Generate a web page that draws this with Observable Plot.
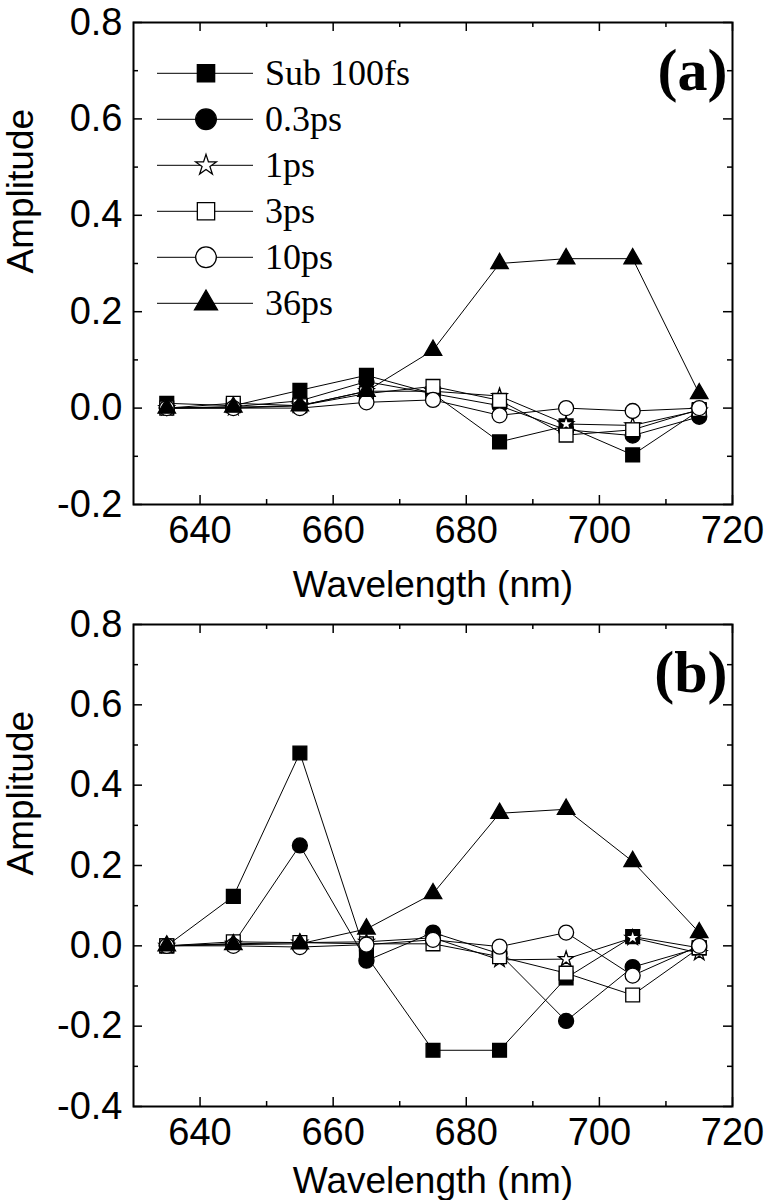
<!DOCTYPE html>
<html><head><meta charset="utf-8">
<script src="https://cdn.jsdelivr.net/npm/d3@7"></script>
<script src="https://cdn.jsdelivr.net/npm/@observablehq/plot@0.6"></script>
<style>
body{margin:0;background:#fff;}
#chart svg{display:block;}
</style></head><body><div id="chart"></div>
<script>
// ---- data ----
const wavelengths = [635, 645, 655, 665, 675, 685, 695, 705, 715];
const seriesNames = ["Sub 100fs", "0.3ps", "1ps", "3ps", "10ps", "36ps"];
const seriesSymbols = ["square", "circle", "star", "square", "circle", "triangle"];
const seriesFilled = [true, true, false, false, false, true];

// panel (a)
const a_sub100fs = [0.01, 0.005, 0.037, 0.068, 0.03, -0.07, -0.037, -0.097, -0.005];
const a_0_3ps    = [0.0, 0.003, 0.015, 0.055, 0.03, 0.005, -0.045, -0.057, -0.018];
const a_1ps      = [0.0, 0.0, 0.005, 0.035, 0.035, 0.025, -0.033, -0.036, -0.005];
const a_3ps      = [0.0, 0.01, 0.005, 0.03, 0.045, 0.016, -0.056, -0.045, -0.003];
const a_10ps     = [0.0, 0.0, 0.0, 0.012, 0.017, -0.015, 0.0, -0.006, 0.0];
const a_36ps     = [0.0, 0.002, 0.005, 0.035, 0.12, 0.30, 0.31, 0.31, 0.03];

// panel (b)
const b_sub100fs = [0.0, 0.123, 0.48, -0.025, -0.26, -0.26, -0.08, 0.023, -0.005];
const b_0_3ps    = [0.0, 0.005, 0.25, -0.037, 0.033, -0.02, -0.187, -0.053, -0.005];
const b_1ps      = [0.0, 0.005, 0.008, 0.01, 0.02, -0.035, -0.033, 0.02, -0.018];
const b_3ps      = [0.0, 0.01, 0.008, 0.005, 0.005, -0.027, -0.068, -0.1225, -0.005];
const b_10ps     = [0.0, 0.0, -0.003, 0.003, 0.015, -0.002, 0.033, -0.074, 0.0];
const b_36ps     = [0.0, 0.003, 0.005, 0.042, 0.13, 0.33, 0.34, 0.21, 0.033];

// ticks
const xDomain = [630, 720];
const xTickLabels = [640, 660, 680, 700, 720];
const xMinorTicks = [650, 670, 690, 710];
const yDomainA = [-0.2, 0.8];
const yTicksA = [-0.2, 0.0, 0.2, 0.4, 0.6, 0.8];
const yMinorA = [-0.1, 0.1, 0.3, 0.5, 0.7];
const yDomainB = [-0.4, 0.8];
const yTicksB = [-0.4, -0.2, 0.0, 0.2, 0.4, 0.6, 0.8];
const yMinorB = [-0.3, -0.1, 0.1, 0.3, 0.5, 0.7];

const xLabel = "Wavelength (nm)";
const yLabel = "Amplitude";

// ---- helpers ----
const symbolR = {square: 7.8, circle: 7.5, star: 4.8, triangle: 6.5};
const SANS = "'Liberation Sans', Arial, Helvetica, sans-serif";
const SERIF = "'Liberation Serif', 'Times New Roman', serif";

function makePanel(seriesValues, yDomain, yMajor, yMinor, marginTop, marginBottom, tag, xLabelDy) {
  const W = 768, H = 600, mL = 133, mR = 36;
  const innerW = W - mL - mR, innerH = H - marginTop - marginBottom;
  const marks = [];
  seriesValues.forEach((vals, i) => {
    const rows = wavelengths.map((w, j) => ({w, v: vals[j]}));
    marks.push(Plot.line(rows, {x: "w", y: "v", stroke: "black", strokeWidth: 1}));
    marks.push(Plot.dot(rows, {
      x: "w", y: "v", symbol: seriesSymbols[i], r: symbolR[seriesSymbols[i]],
      fill: seriesFilled[i] ? "black" : "white", stroke: "black", strokeWidth: 1.3
    }));
  });
  marks.push(Plot.ruleX(xTickLabels, {x: d => d, insetTop: innerH - 9, stroke: "black", strokeWidth: 1.5}));
  marks.push(Plot.ruleX(xMinorTicks, {x: d => d, insetTop: innerH - 5, stroke: "black", strokeWidth: 1.5}));
  marks.push(Plot.ruleX(xTickLabels, {x: d => d, insetBottom: innerH - 9, stroke: "black", strokeWidth: 1.5}));
  marks.push(Plot.ruleX(xMinorTicks, {x: d => d, insetBottom: innerH - 5, stroke: "black", strokeWidth: 1.5}));
  marks.push(Plot.ruleY(yMajor, {y: d => d, insetRight: innerW - 9, stroke: "black", strokeWidth: 1.5}));
  marks.push(Plot.ruleY(yMinor, {y: d => d, insetRight: innerW - 5, stroke: "black", strokeWidth: 1.5}));
  marks.push(Plot.ruleY(yMajor, {y: d => d, insetLeft: innerW - 9, stroke: "black", strokeWidth: 1.5}));
  marks.push(Plot.ruleY(yMinor, {y: d => d, insetLeft: innerW - 5, stroke: "black", strokeWidth: 1.5}));
  marks.push(Plot.frame({stroke: "black", strokeWidth: 2}));
  marks.push(Plot.axisX(xTickLabels, {tickSize: 0, tickPadding: 12, fontSize: 38, tickFormat: d => String(d), label: null, fill: "black"}));
  marks.push(Plot.axisY(yMajor, {tickSize: 0, tickPadding: 11, fontSize: 38, tickFormat: d => d.toFixed(1), label: null, fill: "black"}));
  marks.push(Plot.text([xLabel], {frameAnchor: "bottom", dy: xLabelDy, lineAnchor: "bottom", fontSize: 37, text: d => d, fill: "black"}));
  marks.push(Plot.text([yLabel], {frameAnchor: "left", rotate: -90, dx: -112, dy: 10, fontSize: 37, text: d => d, fill: "black"}));
  marks.push(Plot.text([tag], {frameAnchor: "top-right", dx: -5, dy: 67, lineAnchor: "bottom", textAnchor: "end",
    fontSize: 60, fontWeight: "bold", fontFamily: SERIF, text: d => d, fill: "black"}));
  return Plot.plot({
    width: W, height: H,
    marginLeft: mL, marginRight: mR, marginTop, marginBottom,
    x: {domain: xDomain},
    y: {domain: yDomain},
    style: {fontFamily: SANS, background: "white", color: "black", overflow: "visible"},
    marks
  });
}

const svgA = makePanel([a_sub100fs, a_0_3ps, a_1ps, a_3ps, a_10ps, a_36ps], yDomainA, yTicksA, yMinorA, 22, 96, "(a)", 92);
const svgB = makePanel([b_sub100fs, b_0_3ps, b_1ps, b_3ps, b_10ps, b_36ps], yDomainB, yTicksB, yMinorB, 24, 94, "(b)", 86);

// ---- legend in panel (a) ----
const legendSymbol = {square: d3.symbolSquare, circle: d3.symbolCircle, star: d3.symbolStar, triangle: d3.symbolTriangle};
const legendSize = {square: 300, circle: 336, star: 133, triangle: 229};
const lg = d3.select(svgA).append("g").attr("class", "legend");
seriesNames.forEach((name, i) => {
  const y = 73.3 + i * 46;
  const row = lg.append("g");
  row.append("line").attr("x1", 157).attr("x2", 253).attr("y1", y).attr("y2", y)
    .attr("stroke", "black").attr("stroke-width", 1);
  row.append("path")
    .attr("d", d3.symbol(legendSymbol[seriesSymbols[i]], legendSize[seriesSymbols[i]])())
    .attr("transform", `translate(206,${y})`)
    .attr("fill", seriesFilled[i] ? "black" : "white")
    .attr("stroke", "black").attr("stroke-width", 1.3);
  row.append("text").attr("x", 265).attr("y", y).attr("dy", "0.32em")
    .attr("text-anchor", "start")
    .attr("font-family", SERIF).attr("font-size", 36).attr("fill", "black")
    .text(name);
});

document.getElementById("chart").append(svgA, svgB);
</script>
</body></html>
